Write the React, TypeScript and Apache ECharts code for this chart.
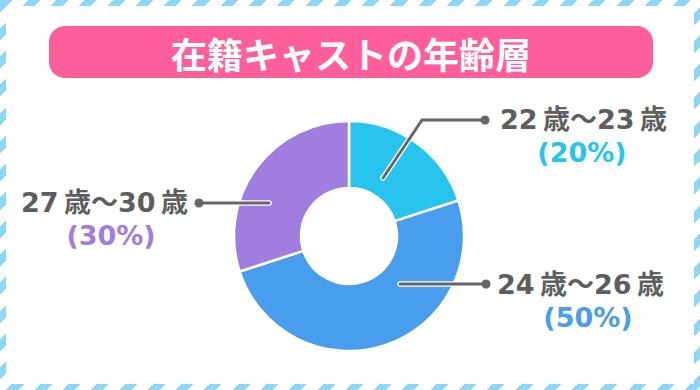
import React, { useEffect, useRef } from 'react';
import * as echarts from 'echarts';

const TITLE = '在籍キャストの年齢層';
const AGE_GROUPS = ['22\u2009歳～23\u2009歳', '24\u2009歳～26\u2009歳', '27\u2009歳～30\u2009歳'];
const SHARES = [20, 50, 30];
const SLICE_COLORS = ['#29C4EE', '#489DED', '#A07EDF'];
const PCT_COLORS = ['#29C4EE', '#489DED', '#A07EDF'];

// leader-line annotation layout (pixel positions of label anchors)
const LABEL_ANCHORS = [
  { line: [[383, 178], [422, 120], [485, 120]], x: 500, y: 119, align: 'left', pctPad: [0, 3, 0, 0] },
  { line: [[400, 284], [486, 284]], x: 497, y: 284, align: 'left', pctPad: [0, 0, 0, 15] },
  { line: [[269, 203], [199, 203]], x: 188, y: 202, align: 'right', pctPad: [0, 0, 0, 13] },
];

const FONT = "'DejaVu Sans', 'Noto Sans CJK JP', sans-serif";
const TEXT_GRAY = '#5e5e5e';
const LINE_GRAY = '#666666';
const LINE_H = 33;

export default function App() {
  const ref = useRef<HTMLDivElement>(null);

  useEffect(() => {
    if (!ref.current) return;
    const chart = echarts.init(ref.current, null, { renderer: 'svg' });
    const data = AGE_GROUPS.map((name, i) => ({
      name,
      value: SHARES[i],
      itemStyle: { color: SLICE_COLORS[i] },
    }));
    const rich: any = {
      name: { fontFamily: FONT, fontSize: 27, fontWeight: 'bold', color: TEXT_GRAY, lineHeight: LINE_H },
    };
    PCT_COLORS.forEach((c, i) => {
      rich['pct' + i] = {
        fontFamily: FONT,
        fontSize: 27,
        fontWeight: 'bold',
        color: c,
        lineHeight: LINE_H,
        align: 'center',
        padding: LABEL_ANCHORS[i].pctPad,
      };
    });
    const leaderLines: any[] = [];
    LABEL_ANCHORS.forEach((a) => {
      const end = a.line[a.line.length - 1];
      leaderLines.push(
        {
          type: 'polyline',
          shape: { points: a.line },
          style: { stroke: '#ffffff', lineWidth: 5.5, fill: null, lineCap: 'round', lineJoin: 'round' },
          z: 19,
        },
        {
          type: 'polyline',
          shape: { points: a.line },
          style: { stroke: LINE_GRAY, lineWidth: 3, fill: null, lineCap: 'round', lineJoin: 'round' },
          z: 20,
        },
        {
          type: 'circle',
          shape: { cx: end[0], cy: end[1], r: 4.5 },
          style: { fill: LINE_GRAY },
          z: 21,
        }
      );
    });
    chart.setOption({
      animation: false,
      backgroundColor: 'transparent',
      graphic: [
        {
          type: 'rect',
          shape: { x: 49, y: 26, width: 604, height: 52, r: 16 },
          style: { fill: '#FF5E9C' },
          z: 10,
        },
        {
          type: 'text',
          x: 351,
          y: 53,
          style: {
            text: TITLE,
            fill: '#ffffff',
            font: "bold 36px 'Noto Sans CJK JP', sans-serif",
            align: 'center',
            verticalAlign: 'middle',
          },
          z: 11,
        },
        ...leaderLines,
      ],
      series: [
        {
          type: 'pie',
          center: [349, 236],
          radius: [48, 115],
          startAngle: 90,
          clockwise: true,
          avoidLabelOverlap: false,
          itemStyle: { borderColor: '#ffffff', borderWidth: 2.5 },
          emphasis: { disabled: true },
          label: {
            show: true,
            position: 'outside',
            formatter: (p: any) => `{name|${p.name}}\n{pct${p.dataIndex}|(${p.value}%)}`,
            rich,
          },
          labelLine: { show: false },
          labelLayout: (p: any) => {
            const a = LABEL_ANCHORS[p.dataIndex];
            return {
              x: a.x,
              y: a.y - LINE_H / 2,
              align: a.align,
              verticalAlign: 'top',
            };
          },
          data,
        },
      ],
    });
    return () => chart.dispose();
  }, []);

  return (
    <div
      style={{
        position: 'fixed',
        left: 0,
        top: 0,
        width: 700,
        height: 390,
        background:
          'repeating-linear-gradient(135deg, #8cd7f8 0px, #8cd7f8 8.5px, #ffffff 8.5px, #ffffff 20px)',
      }}
    >
      <div style={{ position: 'absolute', left: 6, top: 6, right: 6, bottom: 6, background: '#ffffff' }} />
      <div ref={ref} style={{ position: 'absolute', left: 0, top: 0, width: 700, height: 390 }} />
    </div>
  );
}
